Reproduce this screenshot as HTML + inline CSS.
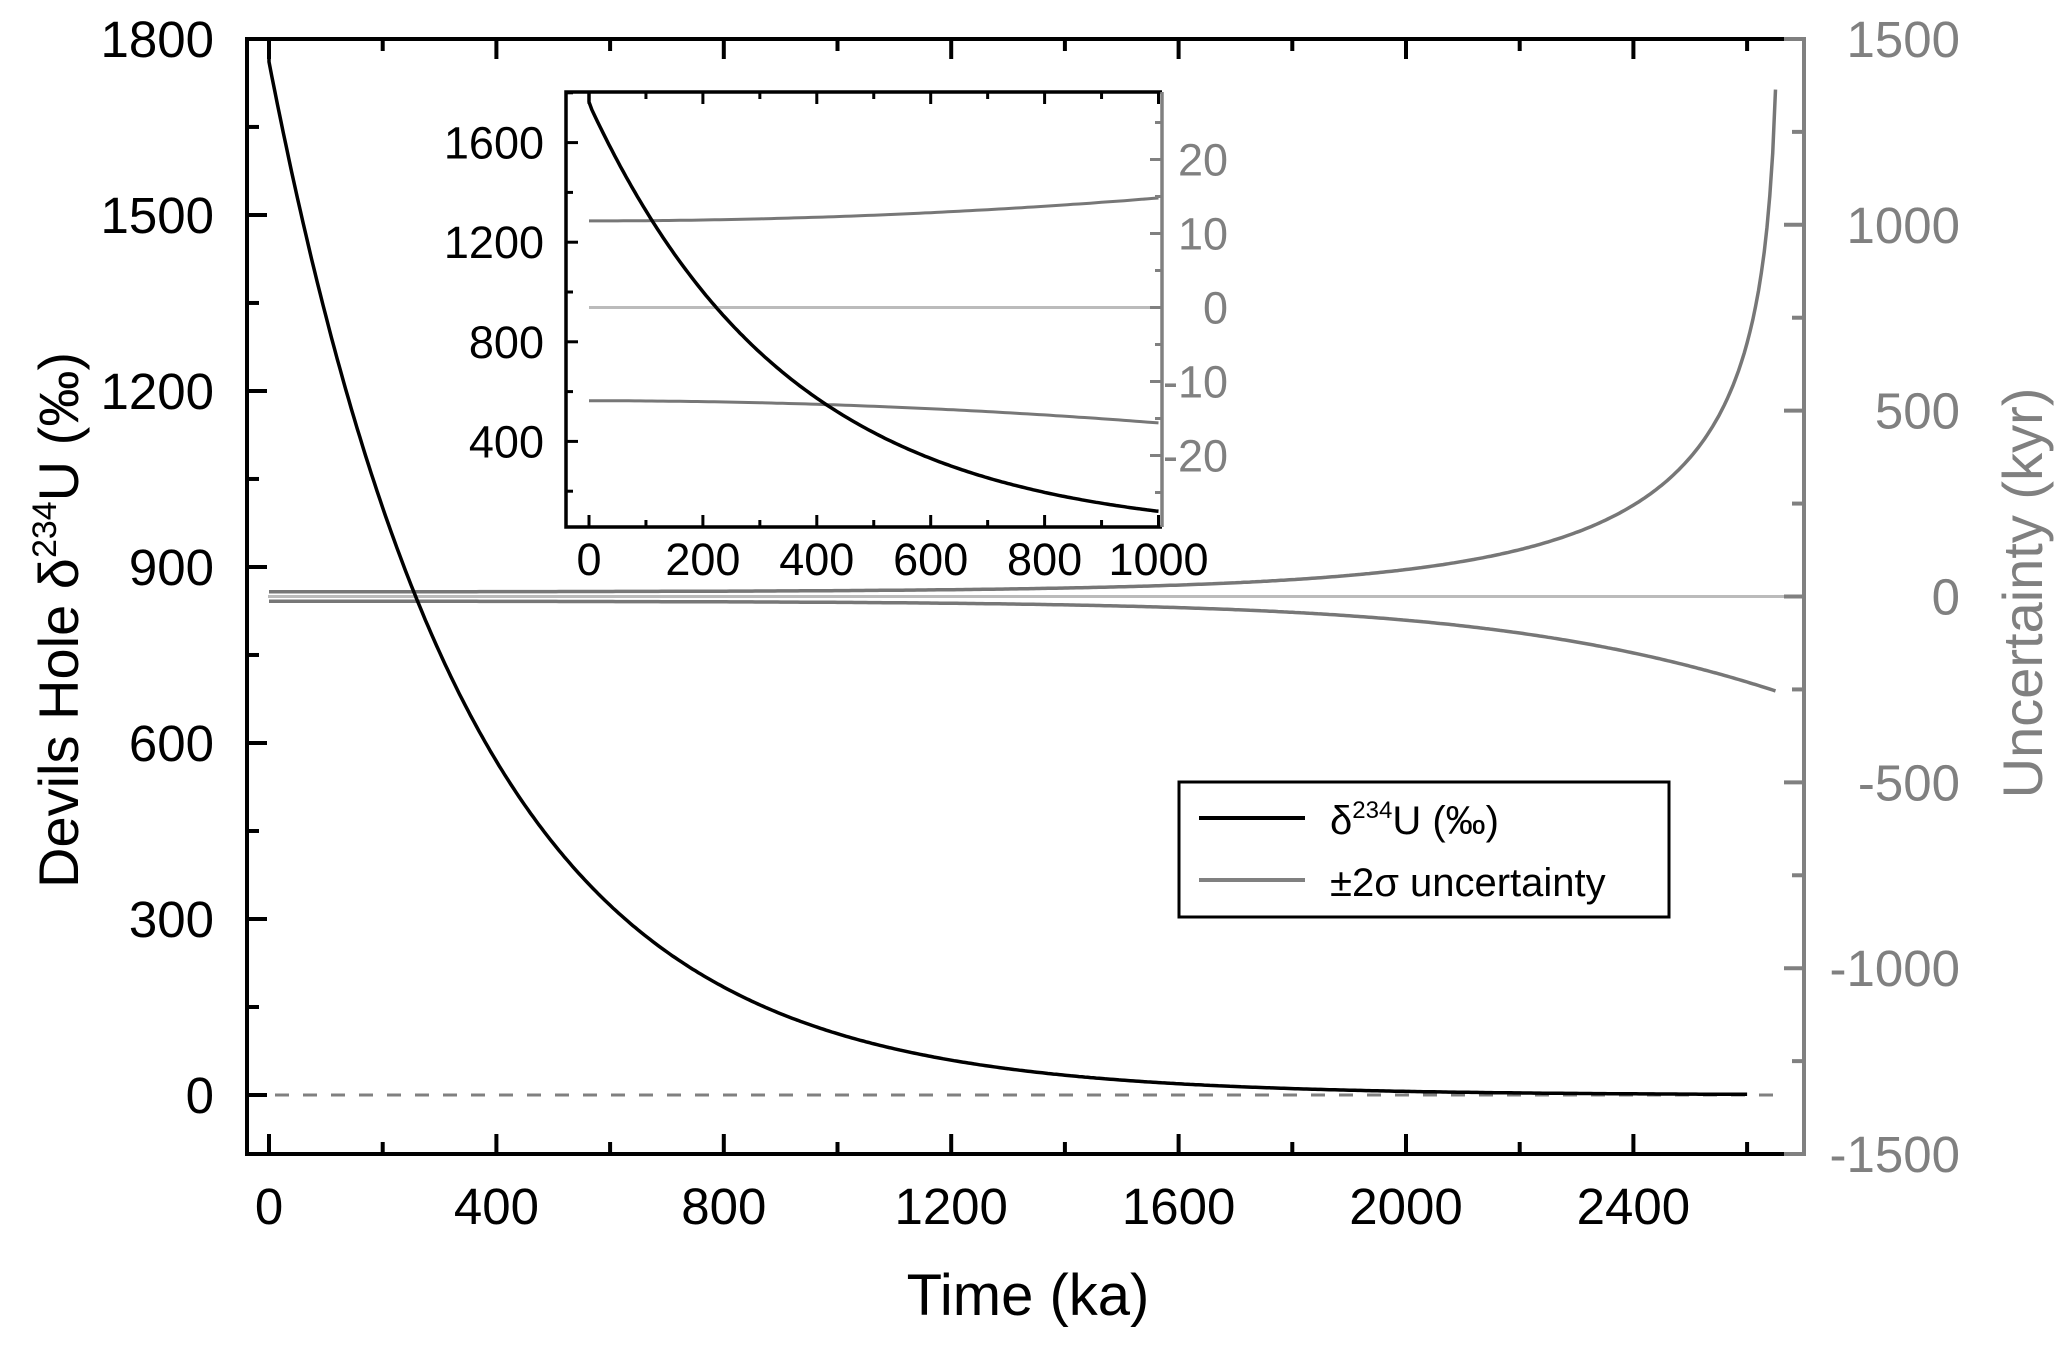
<!DOCTYPE html>
<html><head><meta charset="utf-8"><style>
html,body{margin:0;padding:0;background:#fff;}
svg{display:block;font-family:"Liberation Sans",Arial,sans-serif;}
</style></head><body>
<svg id="s" width="2067" height="1348" viewBox="0 0 2067 1348" xmlns="http://www.w3.org/2000/svg">
<g id="g"></g>
<line x1="247" y1="39" x2="1804" y2="39" stroke="#000" stroke-width="4"/>
<line x1="247" y1="1154" x2="1785" y2="1154" stroke="#000" stroke-width="4"/>
<line x1="247" y1="37" x2="247" y2="1156" stroke="#000" stroke-width="4"/>
<polyline points="1785,1154 1804,1154 1804,37" fill="none" stroke="#808080" stroke-width="4"/>
<g id="ticks"></g>
<rect x="1179" y="782" width="490" height="135" fill="#fff" stroke="#000" stroke-width="3"/>
<line x1="1199" y1="818" x2="1305" y2="818" stroke="#000" stroke-width="4"/>
<line x1="1199" y1="880" x2="1305" y2="880" stroke="#808080" stroke-width="4"/>
<text x="1330" y="834" font-size="40">δ<tspan dy="-16" font-size="24">234</tspan><tspan dy="16">U (‰)</tspan></text>
<text x="1330" y="896" font-size="40">±2σ uncertainty</text>
<text x="1028" y="1315" font-size="58" text-anchor="middle">Time (ka)</text>
<text transform="translate(78,620) rotate(-90)" font-size="56" text-anchor="middle">Devils Hole  δ<tspan dy="-22" font-size="34">234</tspan><tspan dy="22">U (‰)</tspan></text>
<text transform="translate(2042,593) rotate(-90)" font-size="56" text-anchor="middle" fill="#808080">Uncertainty (kyr)</text>
</svg>
<script>
var NS="http://www.w3.org/2000/svg";
var g=document.getElementById('g'),T=document.getElementById('ticks');
function el(p,n,a,txt){var e=document.createElementNS(NS,n);for(var k in a)e.setAttribute(k,a[k]);if(txt!==undefined)e.textContent=txt;p.appendChild(e);return e;}
function path(p,pts,a){var d='M'+pts.map(function(q){return q[0].toFixed(1)+','+q[1].toFixed(1)}).join('L');a.d=d;a.fill='none';el(p,'path',a);}
var tau=354,d0=1761;
function up(t){var r=0.978*Math.exp((t-2650)/tau);return 12.5-tau*Math.log(1-r);}
function lo(t){var r=0.978*Math.exp((t-2650)/tau);return -12.5-tau*Math.log(1+r);}
var X=function(t){return 269+t*0.5685}, YL=function(v){return 1095-v*0.5867}, YR=function(v){return 596.5-v*0.3717};
el(g,'line',{x1:268,y1:596.5,x2:1804,y2:596.5,stroke:'#bbb','stroke-width':3});
el(g,'line',{x1:247,y1:1095,x2:1787,y2:1095,stroke:'#808080','stroke-width':3,'stroke-dasharray':'14,14'});
var a=[],b=[],c=[[269,41]];
for(var t=0;t<=2650;t+=5){a.push([X(t),YR(up(t))]);b.push([X(t),YR(lo(t))]);}
for(var t=0;t<=2600;t+=5){c.push([X(t),YL(d0*Math.exp(-t/tau))]);}
path(g,a,{stroke:'#777','stroke-width':3.5});path(g,b,{stroke:'#777','stroke-width':3.5});
path(g,c,{stroke:'#000','stroke-width':3.5});
for(var v=0;v<=1800;v+=150){var y=YL(v),L=v%300==0?20:12;el(T,'line',{x1:247,y1:y,x2:247+L,y2:y,stroke:'#000','stroke-width':4});
 if(v%300==0)el(T,'text',{x:214,y:y+18,'font-size':51,'text-anchor':'end'},v);}
for(var t=0;t<=2600;t+=200){var x=X(t),L=t%400==0?20:12;el(T,'line',{x1:x,y1:1154,x2:x,y2:1154-L,stroke:'#000','stroke-width':4});
 el(T,'line',{x1:x,y1:39,x2:x,y2:39+L,stroke:'#000','stroke-width':4});
 if(t%400==0)el(T,'text',{x:x,y:1224,'font-size':51,'text-anchor':'middle'},t);}
for(var v=-1500;v<=1500;v+=250){var y=YR(v),L=v%500==0?20:12;el(T,'line',{x1:1804,y1:y,x2:1804-L,y2:y,stroke:'#808080','stroke-width':4});
 if(v%500==0)el(T,'text',{x:1960,y:y+18,'font-size':51,'text-anchor':'end',fill:'#808080'},v);}
var ix0=566,ix1=1162,iy0=92,iy1=527;
var IX=function(t){return 589+t*0.5695}, IL=function(v){return 541-v*0.249}, IR=function(v){return 307.5-v*7.4};
el(T,'rect',{x:ix0,y:iy0,width:ix1-ix0,height:iy1-iy0,fill:'#fff',stroke:'none'});
var ig=el(T,'g',{});
el(ig,'line',{x1:589,y1:IR(0),x2:ix1,y2:IR(0),stroke:'#bbb','stroke-width':3});
var p=[],q=[],r=[[589,iy0],[589,102]];
for(var t=0;t<=1000;t+=10){p.push([IX(t),IR(11.7+3.1*Math.pow(t/1000,2))]);q.push([IX(t),IR(-12.6-3.0*Math.pow(t/1000,2))]);}
for(var t=5;t<=1000;t+=5){r.push([IX(t),IL(1757*Math.exp(-t/tau)+15*t/1000)]);}
path(ig,p,{stroke:'#777','stroke-width':3});path(ig,q,{stroke:'#777','stroke-width':3});path(ig,r,{stroke:'#000','stroke-width':3.5});
el(ig,'polyline',{points:ix1+','+iy1+' '+ix0+','+iy1+' '+ix0+','+iy0+' '+ix1+','+iy0,fill:'none',stroke:'#000','stroke-width':3.5});
el(ig,'line',{x1:ix1,y1:iy0,x2:ix1,y2:iy1,stroke:'#808080','stroke-width':3.5});
for(var v=200;v<=1800;v+=200){var y=IL(v);if(y<iy0)continue;var L=v%400==0?12:7;el(ig,'line',{x1:ix0,y1:y,x2:ix0+L,y2:y,stroke:'#000','stroke-width':3});
 if(v%400==0&&v<=1600)el(ig,'text',{x:544,y:y+16,'font-size':45,'text-anchor':'end'},v);}
for(var t=0;t<=1000;t+=100){var x=IX(t),L=t%200==0?12:7;el(ig,'line',{x1:x,y1:iy1,x2:x,y2:iy1-L,stroke:'#000','stroke-width':3});
 el(ig,'line',{x1:x,y1:iy0,x2:x,y2:iy0+L,stroke:'#000','stroke-width':3});
 if(t%200==0)el(ig,'text',{x:x,y:575,'font-size':45,'text-anchor':'middle'},t);}
for(var v=-25;v<=25;v+=5){var y=IR(v);var L=v%10==0?12:7;el(ig,'line',{x1:ix1,y1:y,x2:ix1-L,y2:y,stroke:'#808080','stroke-width':3});
 if(v%10==0)el(ig,'text',{x:1228,y:y+16,'font-size':45,'text-anchor':'end',fill:'#808080'},v);}
</script>
</body></html>
